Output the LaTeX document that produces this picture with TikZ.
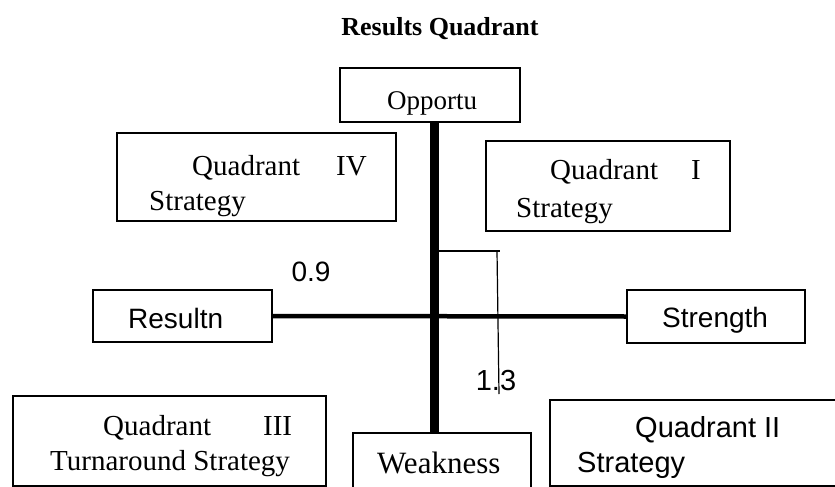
\documentclass[tikz,border=0pt]{standalone}
\usepackage{fontspec}
\setmainfont{Liberation Serif}
\newfontfamily\arialf{Liberation Sans}
\begin{document}
\begin{tikzpicture}[x=1pt,y=-1pt,
  box/.style={draw, line width=1.6pt, inner sep=0pt},
  serif/.style={inner sep=0pt, anchor=base west, font=\fontsize{29}{35}\selectfont},
  sans/.style={inner sep=0pt, anchor=base west, font=\arialf\fontsize{28}{34}\selectfont},
  sansb/.style={inner sep=0pt, anchor=base west, font=\arialf\fontsize{29}{35}\selectfont},
  axisv/.style={line width=9pt},
  axish/.style={line width=4.5pt},
  thin/.style={line width=1.2pt}
]
\useasboundingbox (0,0) rectangle (835,487);

% boxes
\node[box, minimum width=180pt, minimum height=54pt] (opp) at (430,95) {};
\node[box, minimum width=279pt, minimum height=88pt] (q4) at (256.5,177) {};
\node[box, minimum width=244pt, minimum height=90pt] (q1) at (608,186) {};
\node[box, minimum width=179pt, minimum height=52pt] (res) at (182.5,316) {};
\node[box, minimum width=178pt, minimum height=53pt] (str) at (716,316.5) {};
\node[box, minimum width=313pt, minimum height=90pt] (q3) at (169.5,441) {};
\node[box, minimum width=178pt, minimum height=60pt] (weak) at (442,463) {};
\node[box, minimum width=290pt, minimum height=86pt] (q2) at (695,443) {};

% axes
\coordinate (vx) at (434,0);
\draw[axisv] (opp.south -| vx) -- (weak.north -| vx);
\draw[axish] (res.east) -- (str.west);

% thin marker line
\coordinate (t1) at (438.5,251);
\coordinate (t2) at (500,251);
\coordinate (t3) at (497,251);
\coordinate (t4) at (499,394);
\draw[thin] (t1) -- (t2);
\draw[thin] (t3) -- (t4);

% title
\node[anchor=base, inner sep=0pt, font=\bfseries\fontsize{26}{30}\selectfont] (title) at (440,36) {Results Quadrant};

% texts
\node[serif, font=\fontsize{27}{32}\selectfont] (oppt) at (387,109) {Opportu};
\node[serif] (q4a) at (192,175) {Quadrant\hspace{36pt}IV};
\node[serif] (q4b) at (149,210) {Strategy};
\node[serif] (q1a) at (550,179) {Quadrant\hspace{33pt}I};
\node[serif] (q1b) at (516,217) {Strategy};
\node[serif] (q3a) at (103,435) {Quadrant\hspace{52pt}III};
\node[serif] (q3b) at (50,470) {Turnaround Strategy};
\node[serif, font=\fontsize{31}{36}\selectfont] (weakt) at (377,473) {Weakness};
\node[sansb] (q2a) at (635,437) {Quadrant II};
\node[sansb] (q2b) at (577,472) {Strategy};
\node[sans] (rest) at (128,328) {Resultn};
\node[sans] (strt) at (662,327) {Strength};
\node[sans, anchor=base] (n09) at (311,281) {0.9};
\node[sansb, anchor=base] (n13) at (496,390) {1.3};
\end{tikzpicture}
\end{document}
